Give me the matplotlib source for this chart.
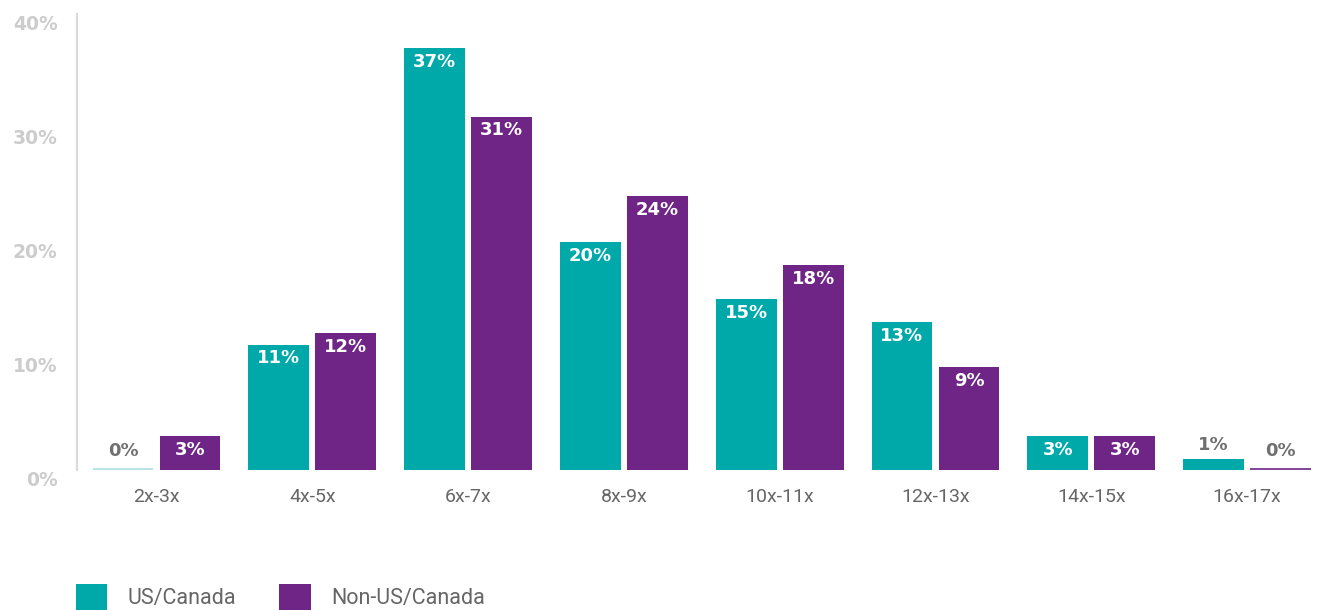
import matplotlib.pyplot as plt
import matplotlib.transforms as mtransforms
import numpy as np

categories = ['2x-3x', '4x-5x', '6x-7x', '8x-9x', '10x-11x', '12x-13x', '14x-15x', '16x-17x']
us_canada = [0, 11, 37, 20, 15, 13, 3, 1]
non_us_canada = [3, 12, 31, 24, 18, 9, 3, 0]
series_names = ['US/Canada', 'Non-US/Canada']

teal = '#00a9a9'
purple = '#6e2585'

plt.rcParams['font.family'] = ['DejaVu Sans']
light_font = ['Roboto', 'DejaVu Sans']

fig = plt.figure(figsize=(13.25, 6.1), dpi=100)
ax = fig.add_axes([77 / 1325, 140 / 610, 1 - 77 / 1325, 456 / 610])

x = np.arange(len(categories))
w = 0.39
gap = 0.04
pos_us = x - (w + gap) / 2
pos_non = x + (w + gap) / 2

bars_us = ax.bar(pos_us, us_canada, w, color=teal, label=series_names[0])
bars_non = ax.bar(pos_non, non_us_canada, w, color=purple, label=series_names[1])

# zero-height bars still get a hairline at the baseline
for pos, vals, col in ((pos_us, us_canada, '#a8dede'), (pos_non, non_us_canada, purple)):
    for p, v in zip(pos, vals):
        if v == 0:
            ax.hlines(0.05, p - w / 2, p + w / 2, color=col, linewidth=1.2)

# value labels: inside the bar when it is tall enough, grey above it otherwise
for bars, vals in ((bars_us, us_canada), (bars_non, non_us_canada)):
    for b, v in zip(bars, vals):
        cx = b.get_x() + b.get_width() / 2
        if v >= 3:
            ax.annotate(f'{v}%', (cx, v), xytext=(0, -10), textcoords='offset points',
                        ha='center', va='center', color='white', fontsize=13, fontweight='bold')
        else:
            ax.annotate(f'{v}%', (cx, v), xytext=(0, 3 if v > 0 else 7), textcoords='offset points',
                        ha='center', va='bottom', color='#707070', fontsize=13, fontweight='bold')

ax.set_xlim(-0.51, 7.5)
ax.set_ylim(0, 40)
ax.set_yticks([0, 10, 20, 30, 40])
ax.set_yticklabels([f'{t}%' for t in [0, 10, 20, 30, 40]])
ax.set_xticks(x)
ax.set_xticklabels(categories, family=light_font)

for s in ['top', 'right', 'bottom']:
    ax.spines[s].set_visible(False)
ax.spines['left'].set_color('#d9d9d9')
ax.spines['left'].set_linewidth(1.5)

ax.tick_params(axis='y', length=0, pad=14, labelsize=13.5, labelcolor='#cccccc')
ax.tick_params(axis='x', length=0, pad=13, labelsize=14, labelcolor='#666666')
for lab in ax.get_yticklabels():
    lab.set_fontweight('bold')
    lab.set_transform(lab.get_transform() + mtransforms.ScaledTranslation(0, -8 / 100, fig.dpi_scale_trans))

leg = fig.legend(handles=[bars_us, bars_non], loc='lower left', bbox_to_anchor=(76 / 1325, 0.0),
                 ncol=2, frameon=False, labelcolor='#666666',
                 prop={'family': light_font, 'size': 15.5},
                 handlelength=1.45, handleheight=1.45, handletextpad=0.95, columnspacing=2.0,
                 borderpad=0, borderaxespad=0)

fig.savefig('out.png', dpi=100)
